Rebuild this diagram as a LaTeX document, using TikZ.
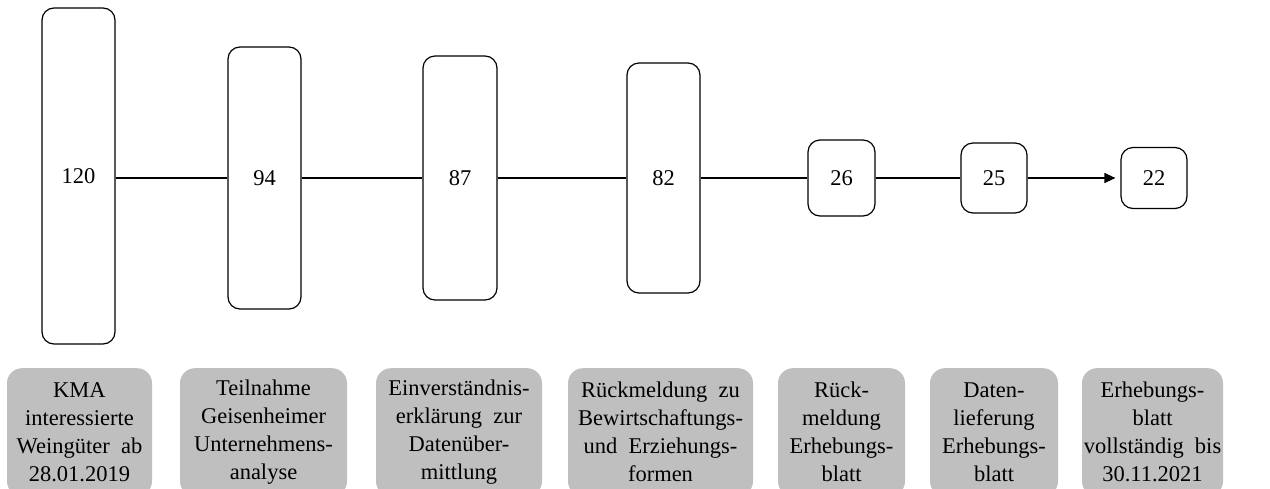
\documentclass[tikz,border=0pt]{standalone}
\usepackage{fontspec}
\setmainfont{Liberation Serif}
\usetikzlibrary{arrows.meta}
\definecolor{boxgrey}{HTML}{BFBFBF}
\tikzset{
  countbox/.style={draw=black, line width=1.2pt, rounded corners=12pt, fill=white,
    inner sep=0pt, font=\fontsize{22.5pt}{28pt}\selectfont},
  labelbox/.style={fill=boxgrey, rounded corners=15pt, inner sep=0pt, anchor=north,
    minimum height=128pt, align=center, font=\fontsize{22.5pt}{28pt}\selectfont},
  link/.style={line width=1.2pt, draw=black}
}
\begin{document}
\begin{tikzpicture}[x=1pt,y=-1pt]
\clip (0,0) rectangle (1270,488);
\fill[white] (0,0) rectangle (1270,488);
% count boxes
\node[countbox, minimum width=73pt, minimum height=336pt] (b1) at (78.5,176) {120};
\node[countbox, minimum width=73pt, minimum height=262pt] (b2) at (264.5,178) {94};
\node[countbox, minimum width=74pt, minimum height=244pt] (b3) at (460,178) {87};
\node[countbox, minimum width=73pt, minimum height=230pt] (b4) at (663.5,178) {82};
\node[countbox, minimum width=67pt, minimum height=76pt] (b5) at (841.5,178) {26};
\node[countbox, minimum width=66pt, minimum height=70pt] (b6) at (994,178) {25};
\node[countbox, minimum width=66pt, minimum height=61pt] (b7) at (1154,178) {22};
% connectors
\draw[link] (b1.east |- b2.west) -- (b2.west);
\draw[link] (b2) -- (b3);
\draw[link] (b3) -- (b4);
\draw[link] (b4) -- (b5);
\draw[link] (b5) -- (b6);
\draw[link, -{Triangle[length=11pt,width=10pt]}, shorten >=5pt] (b6) -- (b7);
% labels
\node[labelbox, minimum width=145pt] (l1) at (79.5,368) {KMA\\interessierte\\Weingüter\enspace ab\\28.01.2019};
\node[labelbox, minimum width=167pt] (l2) at (263.5,368) {Teilnahme\\Geisenheimer\\Unternehmens-\\analyse};
\node[labelbox, minimum width=166pt] (l3) at (459,368) {Einverständnis-\\erklärung\enspace zur\\Datenüber-\\mittlung};
\node[labelbox, minimum width=185pt] (l4) at (660.5,368) {Rückmeldung\enspace zu\\Bewirtschaftungs-\\und\enspace Erziehungs-\\formen};
\node[labelbox, minimum width=127pt] (l5) at (841.5,368) {Rück-\\meldung\\Erhebungs-\\blatt};
\node[labelbox, minimum width=128pt] (l6) at (994,368) {Daten-\\lieferung\\Erhebungs-\\blatt};
\node[labelbox, minimum width=141pt] (l7) at (1152.5,368) {Erhebungs-\\blatt\\vollständig\enspace bis\\30.11.2021};
\end{tikzpicture}
\end{document}
